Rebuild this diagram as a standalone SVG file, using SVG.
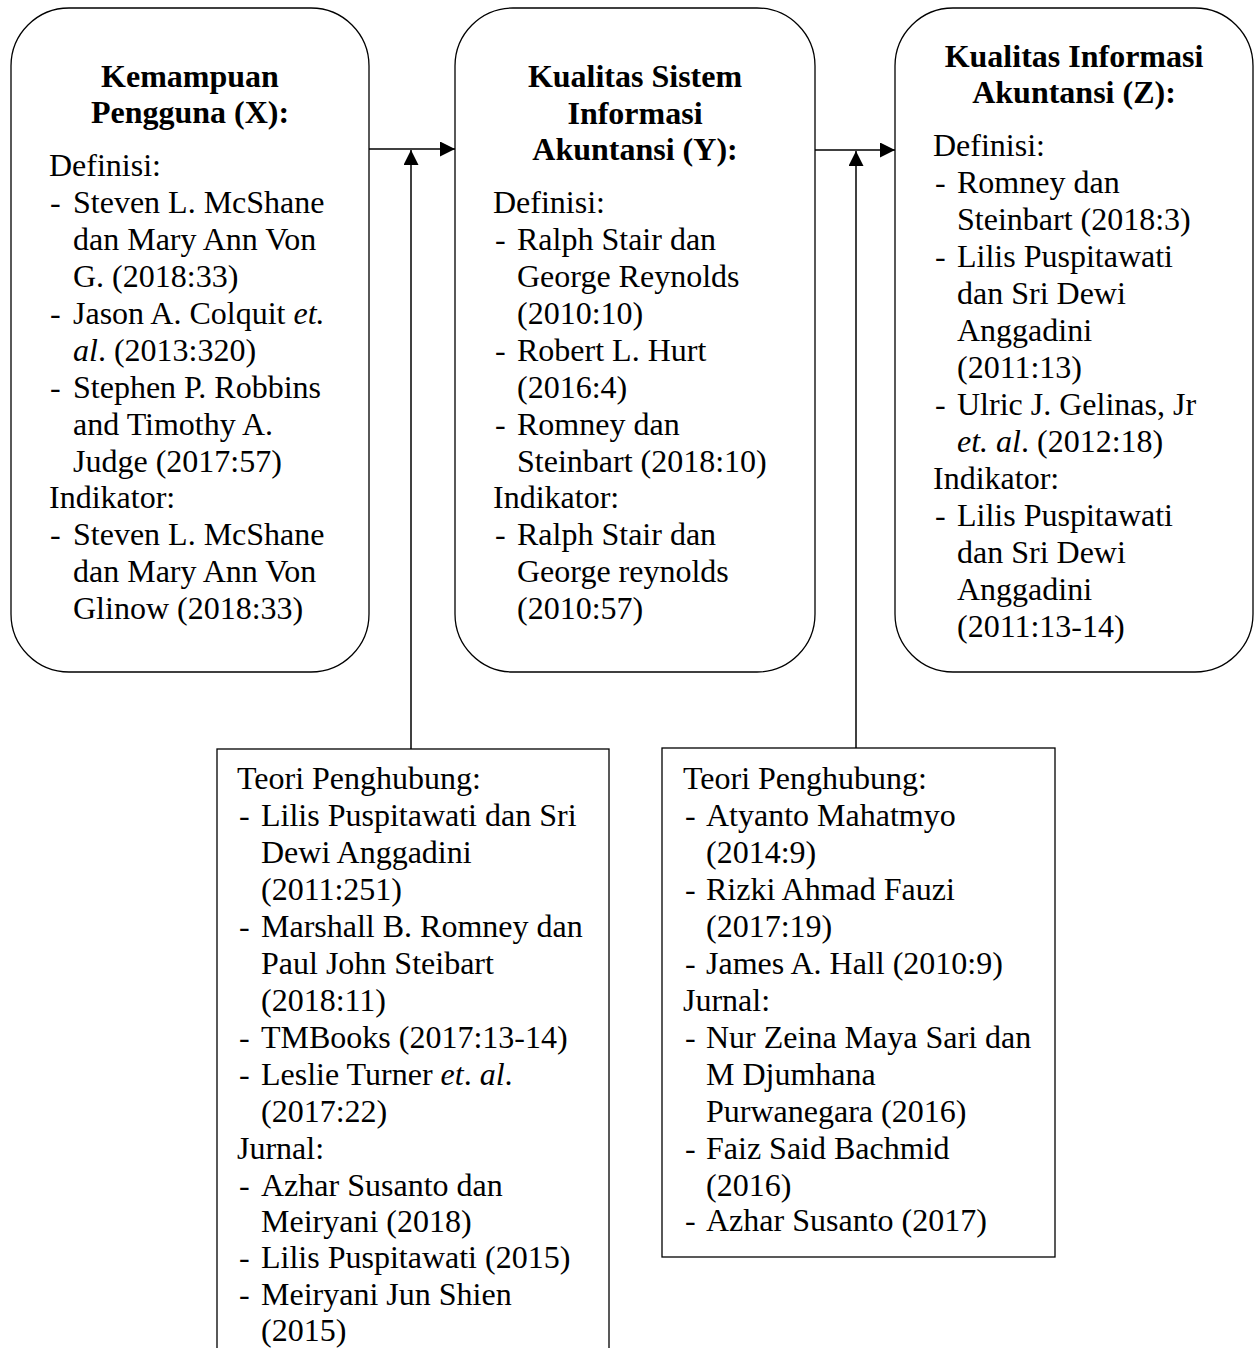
<svg xmlns="http://www.w3.org/2000/svg" width="1258" height="1348" viewBox="0 0 1258 1348">
<defs>
<style>
.box{fill:#fff;stroke:#000;stroke-width:1.3}
.t{font-family:"Liberation Serif","Times New Roman",serif;font-size:32px;fill:#000}
.h{font-family:"Liberation Serif","Times New Roman",serif;font-size:32px;font-weight:bold;fill:#000;text-anchor:middle}
.ln{stroke:#000;stroke-width:1.5;fill:none}
</style>
<marker id="ah" viewBox="0 0 10 10" refX="10" refY="5" markerWidth="15" markerHeight="15" markerUnits="userSpaceOnUse" orient="auto">
<path d="M0,0 L10,5 L0,10 z" fill="#000"/>
</marker>
</defs>
<rect width="1258" height="1348" fill="#fff"/>

<g id="connectors">
<line class="ln" x1="369" y1="149" x2="455" y2="149" marker-end="url(#ah)"/>
<line class="ln" x1="411" y1="749" x2="411" y2="150" marker-end="url(#ah)"/>
<line class="ln" x1="815" y1="150" x2="895" y2="150" marker-end="url(#ah)"/>
<line class="ln" x1="856" y1="748" x2="856" y2="151" marker-end="url(#ah)"/>
</g>

<g id="node-x">
<rect class="box" x="11" y="8" width="358" height="664" rx="58" ry="58"/>
<text class="h" x="190" y="87">Kemampuan</text>
<text class="h" x="190" y="123">Pengguna (X):</text>
<text class="t" x="49" y="176">Definisi:</text>
<text class="t" x="50" y="213">-</text><text class="t" x="73" y="213">Steven L. McShane</text>
<text class="t" x="73" y="250">dan Mary Ann Von</text>
<text class="t" x="73" y="287">G. (2018:33)</text>
<text class="t" x="50" y="324">-</text><text class="t" x="73" y="324">Jason A. Colquit <tspan font-style="italic">et.</tspan></text>
<text class="t" x="73" y="361"><tspan font-style="italic">al</tspan>. (2013:320)</text>
<text class="t" x="50" y="398">-</text><text class="t" x="73" y="398">Stephen P. Robbins</text>
<text class="t" x="73" y="435">and Timothy A.</text>
<text class="t" x="73" y="472">Judge (2017:57)</text>
<text class="t" x="49" y="508">Indikator:</text>
<text class="t" x="50" y="545">-</text><text class="t" x="73" y="545">Steven L. McShane</text>
<text class="t" x="73" y="582">dan Mary Ann Von</text>
<text class="t" x="73" y="619">Glinow (2018:33)</text>
</g>

<g id="node-y">
<rect class="box" x="455" y="8" width="360" height="664" rx="58" ry="58"/>
<text class="h" x="635" y="87">Kualitas Sistem</text>
<text class="h" x="635" y="124">Informasi</text>
<text class="h" x="635" y="160">Akuntansi (Y):</text>
<text class="t" x="493" y="213">Definisi:</text>
<text class="t" x="495" y="250">-</text><text class="t" x="517" y="250">Ralph Stair dan</text>
<text class="t" x="517" y="287">George Reynolds</text>
<text class="t" x="517" y="324">(2010:10)</text>
<text class="t" x="495" y="361">-</text><text class="t" x="517" y="361">Robert L. Hurt</text>
<text class="t" x="517" y="398">(2016:4)</text>
<text class="t" x="495" y="435">-</text><text class="t" x="517" y="435">Romney dan</text>
<text class="t" x="517" y="472">Steinbart (2018:10)</text>
<text class="t" x="493" y="508">Indikator:</text>
<text class="t" x="495" y="545">-</text><text class="t" x="517" y="545">Ralph Stair dan</text>
<text class="t" x="517" y="582">George reynolds</text>
<text class="t" x="517" y="619">(2010:57)</text>
</g>

<g id="node-z">
<rect class="box" x="895" y="8" width="358" height="664" rx="58" ry="58"/>
<text class="h" x="1074" y="67">Kualitas Informasi</text>
<text class="h" x="1074" y="103">Akuntansi (Z):</text>
<text class="t" x="933" y="156">Definisi:</text>
<text class="t" x="935" y="193">-</text><text class="t" x="957" y="193">Romney dan</text>
<text class="t" x="957" y="230">Steinbart (2018:3)</text>
<text class="t" x="935" y="267">-</text><text class="t" x="957" y="267">Lilis Puspitawati</text>
<text class="t" x="957" y="304">dan Sri Dewi</text>
<text class="t" x="957" y="341">Anggadini</text>
<text class="t" x="957" y="378">(2011:13)</text>
<text class="t" x="935" y="415">-</text><text class="t" x="957" y="415">Ulric J. Gelinas, Jr</text>
<text class="t" x="957" y="452"><tspan font-style="italic">et. al</tspan>. (2012:18)</text>
<text class="t" x="933" y="489">Indikator:</text>
<text class="t" x="935" y="526">-</text><text class="t" x="957" y="526">Lilis Puspitawati</text>
<text class="t" x="957" y="563">dan Sri Dewi</text>
<text class="t" x="957" y="600">Anggadini</text>
<text class="t" x="957" y="637">(2011:13-14)</text>
</g>

<g id="node-link1">
<rect class="box" x="217" y="749" width="392" height="640"/>
<text class="t" x="237" y="789">Teori Penghubung:</text>
<text class="t" x="239" y="826">-</text><text class="t" x="261" y="826">Lilis Puspitawati dan Sri</text>
<text class="t" x="261" y="863">Dewi Anggadini</text>
<text class="t" x="261" y="900">(2011:251)</text>
<text class="t" x="239" y="937">-</text><text class="t" x="261" y="937">Marshall B. Romney dan</text>
<text class="t" x="261" y="974">Paul John Steibart</text>
<text class="t" x="261" y="1011">(2018:11)</text>
<text class="t" x="239" y="1048">-</text><text class="t" x="261" y="1048">TMBooks (2017:13-14)</text>
<text class="t" x="239" y="1085">-</text><text class="t" x="261" y="1085">Leslie Turner <tspan font-style="italic">et</tspan>. <tspan font-style="italic">al</tspan>.</text>
<text class="t" x="261" y="1122">(2017:22)</text>
<text class="t" x="237" y="1159">Jurnal:</text>
<text class="t" x="239" y="1196">-</text><text class="t" x="261" y="1196">Azhar Susanto dan</text>
<text class="t" x="261" y="1232">Meiryani (2018)</text>
<text class="t" x="239" y="1268">-</text><text class="t" x="261" y="1268">Lilis Puspitawati (2015)</text>
<text class="t" x="239" y="1305">-</text><text class="t" x="261" y="1305">Meiryani Jun Shien</text>
<text class="t" x="261" y="1341">(2015)</text>
</g>

<g id="node-link2">
<rect class="box" x="662" y="748" width="393" height="509"/>
<text class="t" x="683" y="789">Teori Penghubung:</text>
<text class="t" x="685" y="826">-</text><text class="t" x="706" y="826">Atyanto Mahatmyo</text>
<text class="t" x="706" y="863">(2014:9)</text>
<text class="t" x="685" y="900">-</text><text class="t" x="706" y="900">Rizki Ahmad Fauzi</text>
<text class="t" x="706" y="937">(2017:19)</text>
<text class="t" x="685" y="974">-</text><text class="t" x="706" y="974">James A. Hall (2010:9)</text>
<text class="t" x="683" y="1011">Jurnal:</text>
<text class="t" x="685" y="1048">-</text><text class="t" x="706" y="1048">Nur Zeina Maya Sari dan</text>
<text class="t" x="706" y="1085">M Djumhana</text>
<text class="t" x="706" y="1122">Purwanegara (2016)</text>
<text class="t" x="685" y="1159">-</text><text class="t" x="706" y="1159">Faiz Said Bachmid</text>
<text class="t" x="706" y="1196">(2016)</text>
<text class="t" x="685" y="1231">-</text><text class="t" x="706" y="1231">Azhar Susanto (2017)</text>
</g>
</svg>
